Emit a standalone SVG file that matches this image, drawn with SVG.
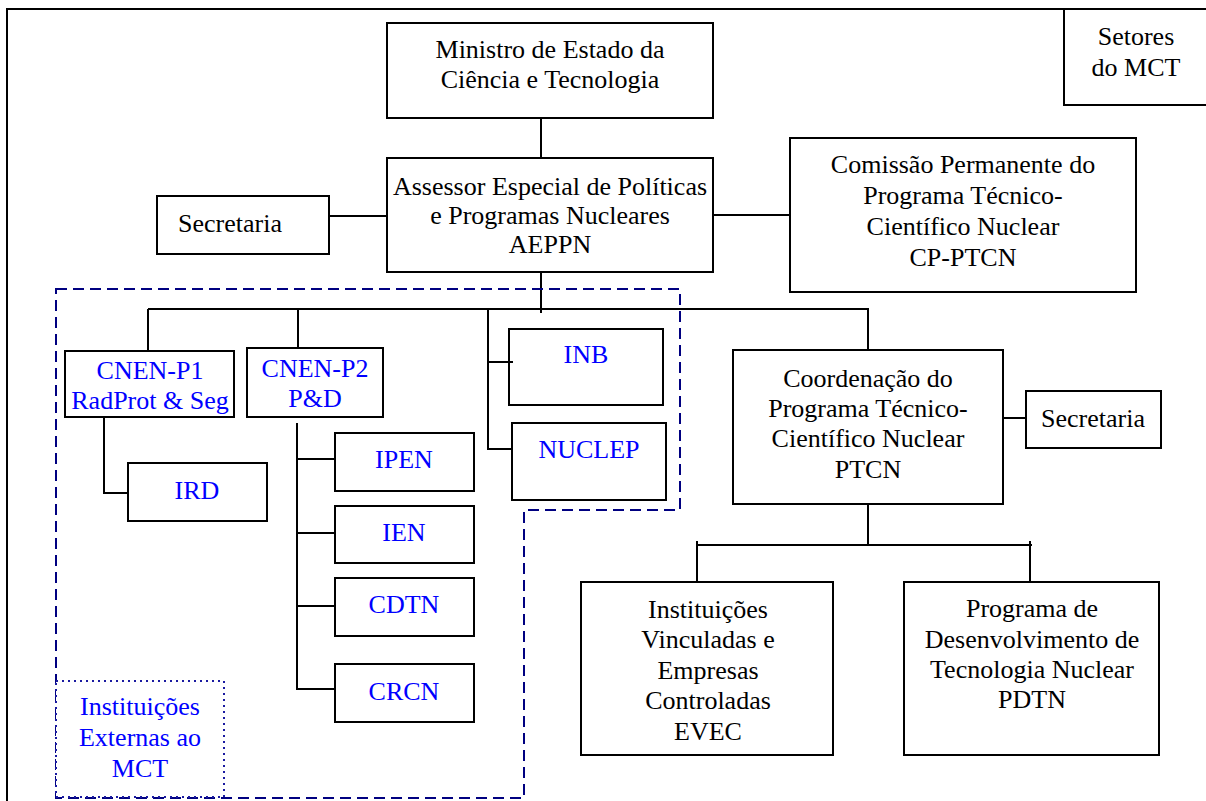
<svg xmlns="http://www.w3.org/2000/svg" width="1206" height="801" viewBox="0 0 1206 801">
<style>
.box{fill:#fff;stroke:#000;stroke-width:2}
.ln{fill:none;stroke:#000;stroke-width:2}
.t{font-family:"Liberation Serif","Times New Roman",serif;font-size:26px;text-anchor:middle;fill:#000}
.b{fill:#0000ff}
</style>
<rect width="1206" height="801" fill="#fff"/>
<rect id="frame" x="7" y="9" width="1220" height="820" fill="none" stroke="#000" stroke-width="2"/>

<g id="connectors">
<path class="ln" d="M541 118V158"/>
<path class="ln" d="M329 216H387"/>
<path class="ln" d="M713 215H790"/>
<path class="ln" d="M541 272V313"/>
<path class="ln" d="M148 309H868V350"/>
<path class="ln" d="M148 309V351"/>
<path class="ln" d="M298 309V351"/>
<path class="ln" d="M488 309V449H512"/>
<path class="ln" d="M488 362H513"/>
<path class="ln" d="M104 418V493H128"/>
<path class="ln" d="M297 423V689H335"/>
<path class="ln" d="M297 459H335"/>
<path class="ln" d="M297 533H335"/>
<path class="ln" d="M297 606H335"/>
<path class="ln" d="M1003 418H1026"/>
<path class="ln" d="M868 504V545"/>
<path class="ln" d="M696 545H1032"/>
<path class="ln" d="M697 541V582"/>
<path class="ln" d="M1030 541V582"/>
</g>

<path id="external-group" d="M56 289H680V510H524V798H56Z" fill="none" stroke="#000080" stroke-width="2" stroke-dasharray="11 6"/>

<g id="setores">
<rect class="box" x="1064" y="9" width="160" height="96"/>
<text class="t" x="1136" y="45">Setores</text>
<text class="t" x="1136" y="76">do MCT</text>
</g>

<g id="ministro">
<rect class="box" x="387" y="23" width="326" height="95"/>
<text class="t" x="550" y="58">Ministro de Estado da</text>
<text class="t" x="550" y="88">Ciência e Tecnologia</text>
</g>

<g id="aeppn">
<rect class="box" x="387" y="158" width="326" height="114"/>
<text class="t" x="550" y="195">Assessor Especial de Políticas</text>
<text class="t" x="550" y="224">e Programas Nucleares</text>
<text class="t" x="550" y="253">AEPPN</text>
</g>

<g id="secretaria-aeppn">
<rect class="box" x="157" y="196" width="172" height="58"/>
<text class="t" x="230" y="232">Secretaria</text>
</g>

<g id="cp-ptcn">
<rect class="box" x="790" y="138" width="346" height="154"/>
<text class="t" x="963" y="173">Comissão Permanente do</text>
<text class="t" x="963" y="204">Programa Técnico-</text>
<text class="t" x="963" y="235">Científico Nuclear</text>
<text class="t" x="963" y="266">CP-PTCN</text>
</g>

<g id="cnen-p1">
<rect class="box" x="65" y="351" width="169" height="66"/>
<text class="t b" x="150" y="379">CNEN-P1</text>
<text class="t b" x="150" y="409">RadProt &amp; Seg</text>
</g>

<g id="cnen-p2">
<rect class="box" x="247" y="348" width="136" height="69"/>
<text class="t b" x="315" y="377">CNEN-P2</text>
<text class="t b" x="315" y="407">P&amp;D</text>
</g>

<g id="ird">
<rect class="box" x="128" y="463" width="139" height="58"/>
<text class="t b" x="197" y="499">IRD</text>
</g>

<g id="ipen">
<rect class="box" x="335" y="433" width="139" height="58"/>
<text class="t b" x="404" y="468">IPEN</text>
</g>

<g id="ien">
<rect class="box" x="335" y="506" width="139" height="57"/>
<text class="t b" x="404" y="541">IEN</text>
</g>

<g id="cdtn">
<rect class="box" x="335" y="578" width="139" height="58"/>
<text class="t b" x="404" y="613">CDTN</text>
</g>

<g id="crcn">
<rect class="box" x="335" y="664" width="139" height="58"/>
<text class="t b" x="404" y="700">CRCN</text>
</g>

<g id="inb">
<rect class="box" x="509" y="329" width="154" height="76"/>
<text class="t b" x="586" y="363">INB</text>
</g>

<g id="nuclep">
<rect class="box" x="512" y="423" width="154" height="77"/>
<text class="t b" x="589" y="458">NUCLEP</text>
</g>
<path class="ln" d="M509 362H513"/>

<g id="ptcn">
<rect class="box" x="733" y="350" width="270" height="154"/>
<text class="t" x="868" y="387">Coordenação do</text>
<text class="t" x="868" y="417">Programa Técnico-</text>
<text class="t" x="868" y="447">Científico Nuclear</text>
<text class="t" x="868" y="478">PTCN</text>
</g>

<g id="secretaria-ptcn">
<rect class="box" x="1026" y="391" width="135" height="57"/>
<text class="t" x="1093" y="427">Secretaria</text>
</g>

<g id="evec">
<rect class="box" x="581" y="582" width="252" height="173"/>
<text class="t" x="708" y="618">Instituições</text>
<text class="t" x="708" y="648">Vinculadas e</text>
<text class="t" x="708" y="679">Empresas</text>
<text class="t" x="708" y="709">Controladas</text>
<text class="t" x="708" y="740">EVEC</text>
</g>

<g id="pdtn">
<rect class="box" x="904" y="582" width="255" height="173"/>
<text class="t" x="1032" y="617">Programa de</text>
<text class="t" x="1032" y="648">Desenvolvimento de</text>
<text class="t" x="1032" y="678">Tecnologia Nuclear</text>
<text class="t" x="1032" y="708">PDTN</text>
</g>

<g id="legend-external">
<rect x="56" y="681" width="168" height="116" fill="#fff" stroke="#1a1aa0" stroke-width="2" stroke-dasharray="2 4"/>
<text class="t b" x="140" y="715">Instituições</text>
<text class="t b" x="140" y="746">Externas ao</text>
<text class="t b" x="140" y="777">MCT</text>
</g>
</svg>
